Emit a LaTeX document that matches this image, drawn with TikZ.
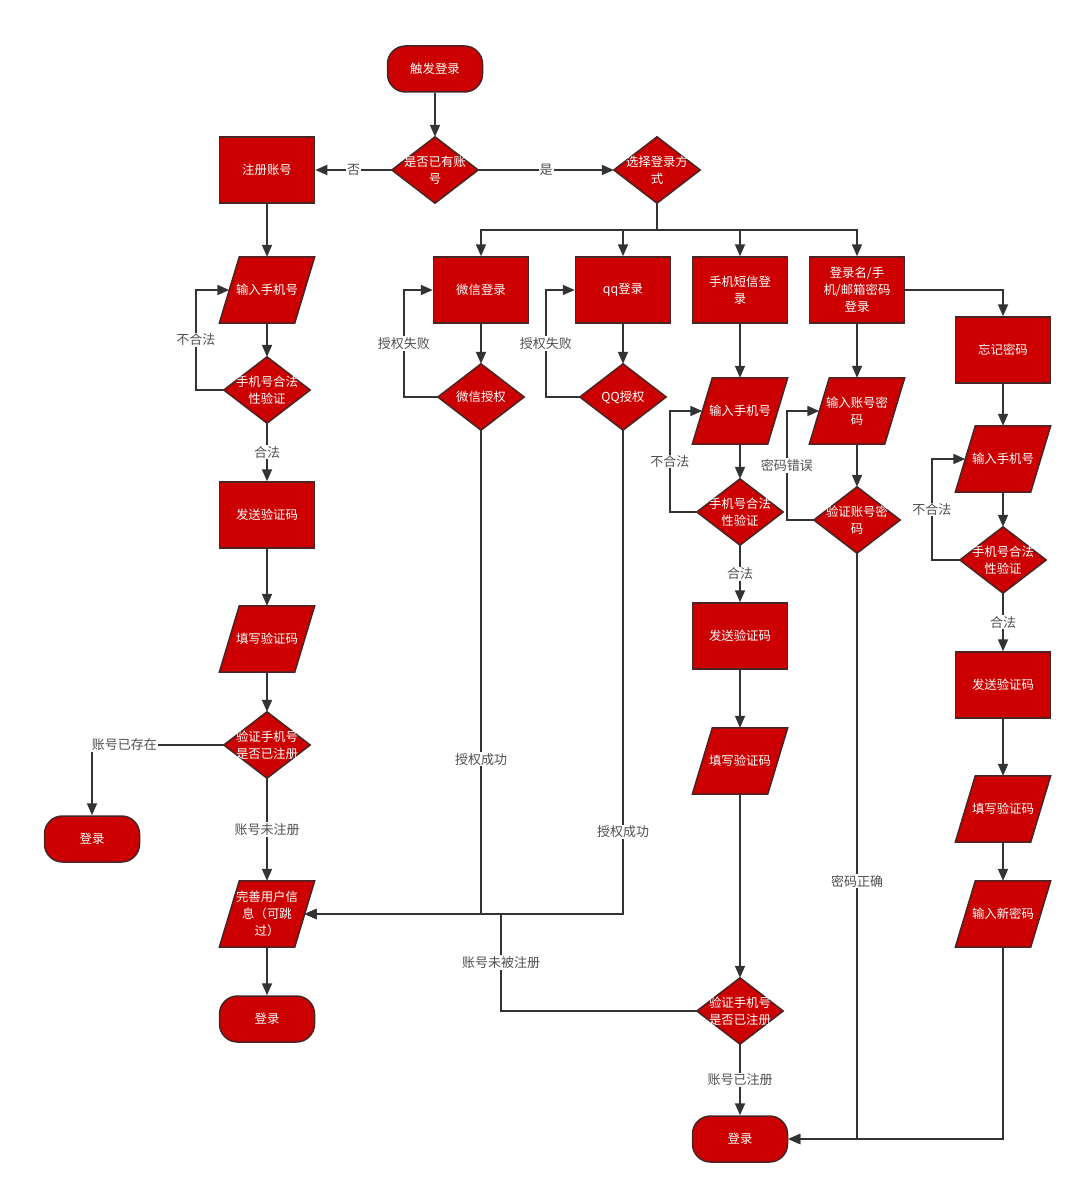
\documentclass[tikz,border=0pt]{standalone}
\usepackage{fontspec}
\setmainfont{Noto Sans CJK SC}
\usetikzlibrary{arrows.meta,calc}
\pgfdeclarelayer{background}
\pgfsetlayers{background,main}
\definecolor{nodered}{HTML}{CC0000}
\definecolor{edgedark}{HTML}{4A2424}
\definecolor{linegray}{HTML}{333333}
\definecolor{lblgray}{HTML}{505050}
\begin{document}
\begin{tikzpicture}[x=1pt,y=-1pt,
 base/.style={text=white, font=\fontsize{12.4}{17}\selectfont, align=center, inner sep=0pt},
 proc/.style={base, draw=edgedark, fill=nodered, line width=1.5pt, minimum width=95pt, minimum height=66pt},
 term/.style={base, draw=edgedark, fill=nodered, line width=1.5pt, rounded corners=18pt, minimum width=95pt, minimum height=46pt},
 dec/.style={base, minimum width=86pt, minimum height=66pt},
 io/.style={base, minimum width=75pt, minimum height=66pt},
 shapeline/.style={draw=edgedark, fill=nodered, line width=1.5pt, line join=miter},
 conn/.style={draw=linegray, line width=1.8pt},
 arr/.style={conn, -{Triangle[length=12pt,width=10pt]}},
 lbl/.style={fill=white, text=lblgray, font=\fontsize{13}{15}\selectfont, inner sep=1pt},
]
\useasboundingbox (0,0) rectangle (1080,1193);
% nodes
\node[term] (start) at (435,69) {触发登录};
\node[dec] (q1) at (435,170) {是否已有账\\号};
\node[dec] (choose) at (657,170) {选择登录方\\式};
\node[proc] (reg) at (267,170) {注册账号};
\node[io] (in1) at (267,290) {输入手机号};
\node[dec] (v1) at (267,390) {手机号合法\\性验证};
\node[proc] (send1) at (267,515) {发送验证码};
\node[io] (fill1) at (267,639) {填写验证码};
\node[dec] (ver1) at (267,745) {验证手机号\\是否已注册};
\node[term] (loginA) at (92,839) {登录};
\node[io] (complete) at (267,914) {完善用户信\\息（可跳\\过）};
\node[term] (loginB) at (267,1019) {登录};
\node[proc] (wx) at (481,290) {微信登录};
\node[proc] (qq) at (623,290) {qq登录};
\node[proc] (sms) at (740,290) {手机短信登\\录};
\node[proc] (pw) at (857,290) {登录名/手\\机/邮箱密码\\登录};
\node[proc] (forgot) at (1003,350) {忘记密码};
\node[dec] (wxa) at (481,397) {微信授权};
\node[dec] (qqa) at (623,397) {QQ授权};
\node[io] (in2) at (740,411) {输入手机号};
\node[dec] (v2) at (740,512) {手机号合法\\性验证};
\node[proc] (send2) at (740,636) {发送验证码};
\node[io] (fill2) at (740,761) {填写验证码};
\node[dec] (ver2) at (740,1011) {验证手机号\\是否已注册};
\node[term] (loginC) at (740,1139) {登录};
\node[io] (in3) at (857,411) {输入账号密\\码};
\node[dec] (v3) at (857,520) {验证账号密\\码};
\node[io] (in4) at (1003,459) {输入手机号};
\node[dec] (v4) at (1003,560) {手机号合法\\性验证};
\node[proc] (send3) at (1003,685) {发送验证码};
\node[io] (fill3) at (1003,809) {填写验证码};
\node[io] (newpw) at (1003,914) {输入新密码};
\coordinate (j1) at (501,914);
% shapes behind text
\begin{pgfonlayer}{background}
\foreach \n in {q1,choose,v1,ver1,wxa,qqa,v2,ver2,v3,v4}
  \path[shapeline] (\n.north) -- (\n.east) -- (\n.south) -- (\n.west) -- cycle;
\foreach \n in {in1,fill1,complete,in2,fill2,in3,in4,fill3,newpw}
  \path[shapeline] ([xshift=10pt]\n.north west) -- ([xshift=10pt]\n.north east) -- ([xshift=-10pt]\n.south east) -- ([xshift=-10pt]\n.south west) -- cycle;
\end{pgfonlayer}
% connectors
\draw[arr] (start) -- (q1);
\draw[arr] (q1) -- node[lbl]{否} (reg);
\draw[arr] (q1) -- node[lbl]{是} (choose);
\draw[arr] (reg) -- (in1);
\draw[arr] (in1) -- (v1);
\draw[arr] (v1.west) -- ++(-28,0) |- node[lbl,pos=0.25]{不合法} (in1.west);
\draw[arr] (v1) -- node[lbl]{合法} (send1);
\draw[arr] (send1) -- (fill1);
\draw[arr] (fill1) -- (ver1);
\draw[arr] (ver1.west) -| node[lbl,pos=0.5,anchor=west,xshift=-2pt]{账号已存在} (loginA.north);
\draw[arr] (ver1) -- node[lbl]{账号未注册} (complete);
\draw[arr] (complete) -- (loginB);
\foreach \n in {wx,qq,sms,pw}
  \draw[arr] (choose.south) -- ++(0,27) -| (\n.north);
\draw[arr] (pw.east) -| (forgot.north);
\draw[arr] (wx) -- (wxa);
\draw[arr] (wxa.west) -- ++(-34,0) |- node[lbl,pos=0.25]{授权失败} (wx.west);
\draw[arr] (wxa.south) |- node[lbl,pos=0.34]{授权成功} (complete.east);
\draw[arr] (qq) -- (qqa);
\draw[arr] (qqa.west) -- ++(-34,0) |- node[lbl,pos=0.25]{授权失败} (qq.west);
\draw[arr] (qqa.south) |- node[lbl,pos=0.415]{授权成功} (complete.east);
\draw[arr] (sms) -- (in2);
\draw[arr] (in2) -- (v2);
\draw[arr] (v2.west) -- ++(-27,0) |- node[lbl,pos=0.25]{不合法} (in2.west);
\draw[arr] (v2) -- node[lbl]{合法} (send2);
\draw[arr] (send2) -- (fill2);
\draw[arr] (fill2) -- (ver2);
\draw[arr] (ver2.west) -| node[lbl,pos=0.75]{账号未被注册} (j1) -- (complete.east);
\draw[arr] (ver2) -- node[lbl]{账号已注册} (loginC);
\draw[arr] (pw) -- (in3);
\draw[arr] (in3) -- (v3);
\draw[arr] (v3.west) -- ++(-27,0) |- node[lbl,pos=0.25]{密码错误} (in3.west);
\draw[arr] (v3.south) |- node[lbl,pos=0.28]{密码正确} (loginC.east);
\draw[arr] (forgot) -- (in4);
\draw[arr] (in4) -- (v4);
\draw[arr] (v4.west) -- ++(-28,0) |- node[lbl,pos=0.25]{不合法} (in4.west);
\draw[arr] (v4) -- node[lbl]{合法} (send3);
\draw[arr] (send3) -- (fill3);
\draw[arr] (fill3) -- (newpw);
\draw[arr] (newpw.south) |- (loginC.east);
\end{tikzpicture}
\end{document}
